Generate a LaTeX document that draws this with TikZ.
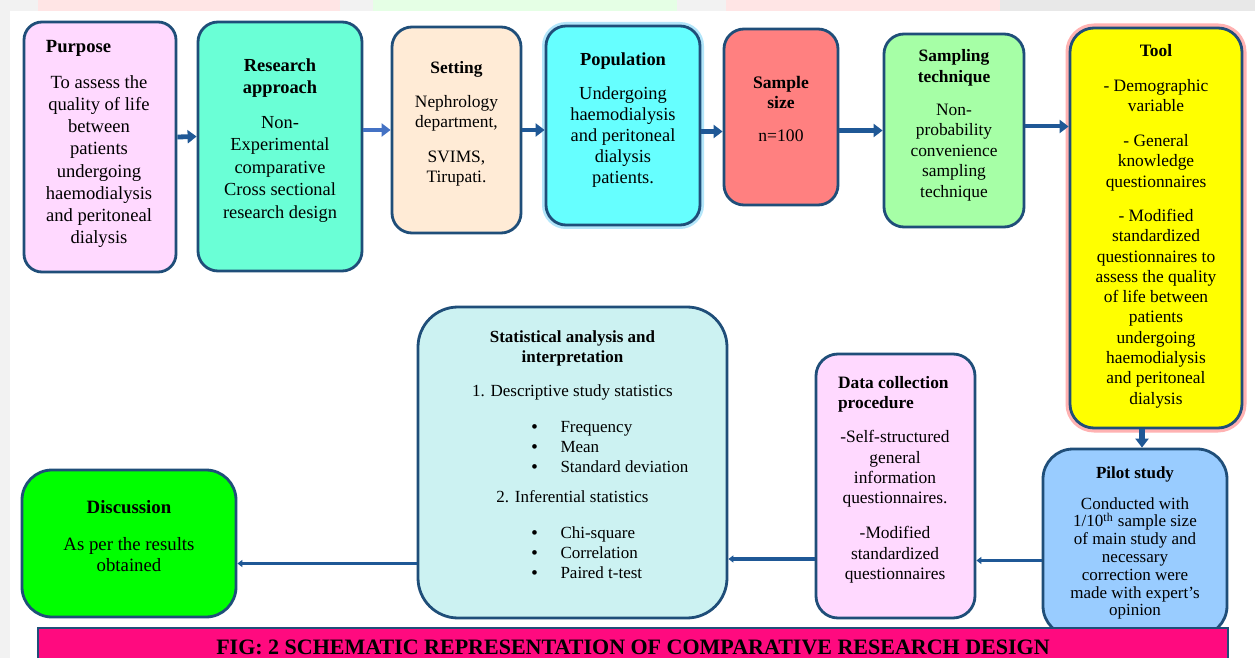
\documentclass[tikz,border=0pt]{standalone}
\usepackage{fontspec}
\setmainfont{Liberation Serif}
\usetikzlibrary{positioning,arrows.meta}

\definecolor{boxline}{RGB}{31,78,121}
\definecolor{flowblue}{RGB}{31,88,150}
\definecolor{flowlight}{RGB}{68,114,196}
\definecolor{purposepink}{RGB}{255,217,255}
\definecolor{approachgreen}{RGB}{106,255,214}
\definecolor{settingpeach}{RGB}{255,235,214}
\definecolor{popcyan}{RGB}{102,255,255}
\definecolor{samplered}{RGB}{255,128,128}
\definecolor{samplinggreen}{RGB}{166,255,166}
\definecolor{toolyellow}{RGB}{255,255,0}
\definecolor{pilotblue}{RGB}{153,204,255}
\definecolor{statscyan}{RGB}{204,242,242}
\definecolor{discgreen}{RGB}{0,255,0}
\definecolor{captionpink}{RGB}{255,10,127}

\tikzset{
  box/.style={draw=boxline, line width=1.4pt, rounded corners=10pt, inner sep=0pt},
  txt/.style={align=center, inner sep=0pt, anchor=north, font=\fontsize{8.7}{10.2}\selectfont},
  flow/.style={draw=flowblue, line width=2.4pt, -{Triangle[length=4.5pt,width=6.5pt]}},
  thinflow/.style={draw=flowblue, line width=1.7pt, -{Triangle[length=2.5pt,width=3.5pt]}}
}

\newcommand{\bulletitem}[1]{\makebox[100pt][l]{\hspace{29.5pt}\makebox[14.5pt][l]{\textbf{\textbullet}}#1}}

\begin{document}
\begin{tikzpicture}[x=0.5pt, y=-0.5pt]
\path[use as bounding box, clip] (0,0) rectangle (1255,658);

% Page background
\fill[gray!10] (0,0) rectangle (1255,658);
\fill[white] (10,11) rectangle (1255,658);
\fill[red!10] (38,0) rectangle (340,11);
\fill[green!10] (373,0) rectangle (677,11);
\fill[red!10] (726,0) rectangle (1000,11);
\fill[gray!18] (1000,0) rectangle (1255,11);

% Top row
\node[box, fill=purposepink, minimum width=76pt, minimum height=125pt, rounded corners=9pt] (purpose) at (100,147) {};
\node[box, fill=approachgreen, minimum width=82pt, minimum height=124.5pt] (approach) at (280,146.5) {};
\node[box, fill=settingpeach, minimum width=64.5pt, minimum height=103pt] (setting) at (456.5,130) {};
\node[box, fill=popcyan, minimum width=77pt, minimum height=99.5pt,
      preaction={draw=cyan!30, line width=4pt}] (population) at (623,125.5) {};
\node[box, fill=samplered, minimum width=57pt, minimum height=88pt] (sample) at (781,117) {};
\node[box, fill=samplinggreen, minimum width=70pt, minimum height=96.5pt] (sampling) at (954,130.5) {};
\node[box, fill=toolyellow, minimum width=86pt, minimum height=200pt, rounded corners=12pt,
      preaction={draw=red!30, line width=4.5pt}] (tool) at (1156,228) {};

% Bottom row
\node[box, fill=pilotblue, minimum width=92pt, minimum height=93.5pt, rounded corners=15pt] (pilot) at (1135,542.5) {};
\node[box, fill=purposepink, minimum width=79.5pt, minimum height=132pt, rounded corners=11pt] (datacoll) at (895.5,486) {};
\node[box, fill=statscyan, minimum width=154.5pt, minimum height=155.5pt, rounded corners=20pt] (stats) at (572.5,462.5) {};
\node[box, fill=discgreen, minimum width=107pt, minimum height=73.5pt, rounded corners=15pt] (discussion) at (129,543.5) {};

% Connectors
\draw[flow] ([yshift=5pt]purpose.east) -- ([yshift=5pt]approach.west);
\draw[flow, draw=flowlight, line width=2pt] (approach.east |- setting.west) -- (setting.west);
\draw[flow] (setting.east) -- (setting.east -| population.west);
\draw[flow] ([yshift=-3pt]population.east) -- ([yshift=-3pt]population.east -| sample.west);
\draw[flow] (sample.east |- sampling.west) -- (sampling.west);
\draw[flow, line width=2pt] ([yshift=2pt]sampling.east) -- ([yshift=2pt]sampling.east -| tool.west);
\draw[flow, line width=3pt] ([xshift=-7pt]tool.south) -- ([xshift=-7pt]tool.south |- pilot.north);
\draw[thinflow] ([yshift=-9pt]pilot.west) -- ([yshift=-9pt]pilot.west -| datacoll.east);
\draw[thinflow] ([yshift=-36.5pt]datacoll.west) -- ([yshift=-36.5pt]datacoll.west -| stats.east);
\draw[thinflow] ([yshift=-10pt]discussion.east -| stats.west) -- ([yshift=-10pt]discussion.east);

% Box texts
\node[txt, font=\fontsize{9.3}{11.05}\selectfont] (purposetext) at (99,40)
  {\makebox[56pt][l]{\hspace{1.5pt}\textbf{Purpose}}\\[7pt]
   To assess the\\ quality of life\\ between\\ patients\\ undergoing\\ haemodialysis\\ and peritoneal\\ dialysis};
\node[txt, font=\fontsize{9.2}{11.2}\selectfont] (approachtext) at (280,58)
  {\textbf{Research}\\ \textbf{approach}\\[6.3pt]
   Non-\\ Experimental\\ comparative\\ Cross sectional\\ research design};
\node[txt, font=\fontsize{8.7}{10}\selectfont] (settingtext) at (456.5,61)
  {\textbf{Setting}\\[7pt] Nephrology\\ department,\\[7.5pt] SVIMS,\\ Tirupati.};
\node[txt, font=\fontsize{9.2}{10.5}\selectfont] (populationtext) at (623,52)
  {\textbf{Population}\\[6.5pt] Undergoing\\ haemodialysis\\ and peritoneal\\ dialysis\\ patients.};
\node[txt, font=\fontsize{8.8}{10}\selectfont] (sampletext) at (781,76)
  {\textbf{Sample}\\ \textbf{size}\\[6.5pt] n=100};
\node[txt, font=\fontsize{8.7}{10.3}\selectfont] (samplingtext) at (954,49)
  {\textbf{Sampling}\\ \textbf{technique}\\[6.2pt]
   Non-\\ probability\\ convenience\\ sampling\\ technique};
\node[txt, font=\fontsize{8.7}{10.15}\selectfont] (tooltext) at (1156,44)
  {\textbf{Tool}\\[7.3pt] - Demographic\\ variable\\[7.3pt]
   - General\\ knowledge\\ questionnaires\\[7pt]
   - Modified\\ standardized\\ questionnaires to\\ assess the quality\\ of life between\\
   patients\\ undergoing\\ haemodialysis\\ and peritoneal\\ dialysis};
\node[txt, font=\fontsize{8.5}{8.9}\selectfont] (pilottext) at (1135,466)
  {\textbf{Pilot study}\\[6.6pt] Conducted with\\ 1/10\textsuperscript{th} sample size\\
   of main study and\\ necessary\\ correction were\\ made with expert’s\\ opinion};
\node[txt, font=\fontsize{8.7}{10.2}\selectfont] (datacolltext) at (895,376)
  {\makebox[57pt][l]{\textbf{Data collection}}\\ \makebox[57pt][l]{\textbf{procedure}}\\[6.7pt]
   -Self-structured\\ general\\ information\\ questionnaires.\\[7.3pt]
   -Modified\\ standardized\\ questionnaires};
\node[txt, font=\fontsize{8.5}{10}\selectfont] (statstext) at (572.5,330)
  {\textbf{Statistical analysis and}\\ \textbf{interpretation}\\[7pt]
   1. Descriptive study statistics\\[8pt]
   \bulletitem{Frequency}\\ \bulletitem{Mean}\\ \bulletitem{Standard deviation}\\[5pt]
   2. Inferential statistics\\[8pt]
   \bulletitem{Chi-square}\\ \bulletitem{Correlation}\\ \bulletitem{Paired t-test}};
\node[txt, font=\fontsize{9.4}{10.5}\selectfont] (discussiontext) at (129,500)
  {\textbf{Discussion}\\[8pt] As per the results\\ obtained};

% Caption bar
\node[draw=boxline, line width=0.8pt, fill=captionpink, minimum width=595pt, minimum height=19pt,
      inner sep=0pt, font=\fontsize{11}{13}\selectfont\bfseries] (caption) at (633,647)
  {FIG: 2 SCHEMATIC REPRESENTATION OF COMPARATIVE RESEARCH DESIGN};
\end{tikzpicture}
\end{document}
